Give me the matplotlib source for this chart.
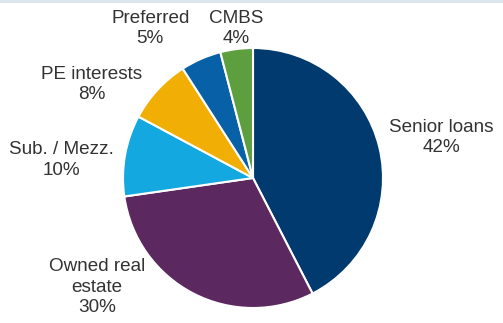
import matplotlib.pyplot as plt
import matplotlib.patches as patches

plt.rcParams['font.family'] = ['Liberation Sans', 'DejaVu Sans']

CATEGORIES = ['Senior loans', 'Owned real\nestate', 'Sub. / Mezz.', 'PE interests', 'Preferred', 'CMBS']
SHARES = [42, 30, 10, 8, 5, 4]
COLORS = ['#013a6e', '#5b2860', '#13a8e0', '#f1ae05', '#0860a6', '#5d9f3e']

# label spots in pie units (radius = 1, centre at 0,0)
LABEL_POS = [(1.45, 0.31), (-1.2, -0.84), (-1.47, 0.14), (-1.24, 0.72), (-0.79, 1.15), (-0.13, 1.15)]

R_PX = 130.0
CX, CY = 253.0, 178.0
W, H = 503, 323

fig = plt.figure(figsize=(W / 100, H / 100), dpi=100)
ax = fig.add_axes([0, 0, 1, 1])

ax.pie(SHARES, colors=COLORS, startangle=90, counterclock=False, radius=1.0,
       wedgeprops=dict(edgecolor='white', linewidth=1.5))

for name, share, (x, y) in zip(CATEGORIES, SHARES, LABEL_POS):
    ax.text(x, y, f"{name}\n{share}%", ha='center', va='center', fontsize=13.6,
            color='#333333', linespacing=1.27)

ax.set_xlim(-CX / R_PX, (W - CX) / R_PX)
ax.set_ylim(-(H - CY) / R_PX, CY / R_PX)
ax.set_aspect('auto')
ax.axis('off')

# faint band along the top edge
fig.patches.append(patches.Rectangle((0, 1 - 3 / H), 1, 3 / H, transform=fig.transFigure,
                                     facecolor='#dde5ee', edgecolor='none'))

fig.savefig('out.png', dpi=100, facecolor='white')
